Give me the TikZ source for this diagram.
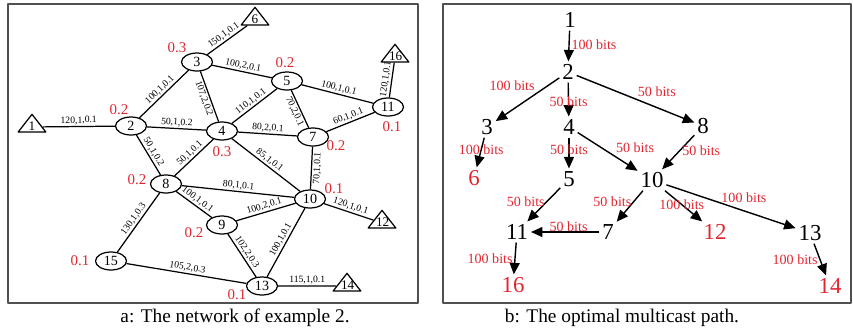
\documentclass[tikz,border=0pt]{standalone}
\usepackage{fontspec}
\setmainfont{Liberation Serif}
\usetikzlibrary{shapes.geometric,arrows.meta}
\definecolor{wred}{RGB}{226,38,48}
\definecolor{framegray}{RGB}{80,80,80}
\tikzset{
  vertex/.style={ellipse,draw,line width=.7pt,fill=white,minimum width=6.2mm,
    minimum height=3.6mm,inner sep=0pt,font=\fontsize{8}{8}\selectfont},
  term/.style={isosceles triangle,isosceles triangle apex angle=76,shape border rotate=90,
    draw,line width=.7pt,fill=white,inner sep=0pt,text width=2.4mm,align=center,
    text height=1.7mm,text depth=.3mm,font=\fontsize{7.5}{7.5}\selectfont},
  elab/.style={sloped,inner sep=.8pt,font=\fontsize{5.5}{5.5}\selectfont},
  wt/.style={text=wred,inner sep=0pt,font=\fontsize{8.5}{8.5}\selectfont},
  tnode/.style={inner sep=1.5pt,font=\fontsize{13}{13}\selectfont},
  bits/.style={text=wred,inner sep=1pt,font=\fontsize{8}{8}\selectfont},
  arr/.style={-{Triangle[length=2.3mm,width=2mm]},line width=.8pt},
  panel/.style={draw=framegray,line width=1.1pt},
}
\begin{document}
\begin{tikzpicture}[x=0.02cm,y=-0.02cm,line join=round]
\useasboundingbox (0,0) rectangle (853,329);
% a: the network
\draw[panel] (8,4) rectangle (418,303);
\foreach \n/\x/\y in {2/131/126,3/197/62,4/222/131,5/287/81,7/313/137,8/166/184,
  9/222/225,10/310/199,11/388/107,13/262/286,15/111/261}
  \node[vertex] (a\n) at (\x,\y) {\n};
\foreach \n/\x/\y in {1/32/127,6/255/20,12/382/223,14/347/286,16/395/57}
  \node[term] (a\n) at (\x,\y) {\n};
\foreach \s/\t/\l/\p in {1/2/{120,1,0.1}/above,2/3/{100,1,0.1}/above,3/6/{150,1,0.1}/above,
  3/5/{100,2,0.1}/above,3/4/{107,2,0.2}/below,2/4/{50,1,0.2}/above,2/8/{50,1,0.2}/above,
  4/5/{110,1,0.1}/above,4/7/{80,2,0.1}/above,4/8/{50,1,0.1}/above,4/10/{85,1,0.1}/above,
  5/11/{100,1,0.1}/above,5/7/{70,2,0.1}/below,7/11/{60,1,0.1}/above,7/10/{70,1,0.1}/below,
  11/16/{120,1,0.1}/above,8/10/{80,1,0.1}/above,8/9/{100,1,0.1}/above,
  8/15/{130,1,0.3}/above,9/10/{100,2,0.1}/above,9/13/{102,2,0.3}/above,
  10/13/{100,1,0.1}/above,10/12/{120,1,0.1}/above,13/14/{115,1,0.1}/above,
  15/13/{105,2,0.3}/above}
  \draw[line width=.7pt] (a\s) -- node[elab,\p]{\l} (a\t);
% node weights
\foreach \n/\x/\y/\w in {2/119/110/0.2,3/177/48/0.3,5/285/63/0.2,11/392/127/0.1,
  7/336/146/0.2,4/222/152/0.3,8/137/180/0.2,9/194/233/0.2,10/334/189/0.1,
  13/237/295/0.1,15/80/261/0.1}
  \node[wt] (w\n) at (\x,\y) {\w};
\node[font=\fontsize{11}{11}\selectfont] (capa) at (235,318) {a: The network of example 2.};

% b: the multicast tree
\draw[panel] (443,4) rectangle (851,303);
\foreach \n/\x/\y in {1/570/20,2/568/72,3/487/127,4/569/127,8/703/126,5/569/179,
  10/652/180,11/517/232,7/608/232,13/810/233}
  \node[tnode] (b\n) at (\x,\y) {\n};
\foreach \n/\x/\y in {6/474/178,12/715/232,16/513/285,14/830/286}
  \node[tnode,text=wred] (b\n) at (\x,\y) {\n};
\draw[arr] (b1) -- node[bits,pos=.45,right]{100 bits} (b2);
\draw[arr] (b2) -- node[bits,pos=.35,above left=0pt]{100 bits} (b3);
\draw[arr] (b2) -- node[bits,pos=.55]{50 bits} (b4);
\draw[arr] (b2) -- node[bits,pos=.5,above right=0pt]{50 bits} (b8);
\draw[arr] (b3) -- node[bits,pos=.4]{100 bits} (b6);
\draw[arr] (b4) -- node[bits,pos=.4]{50 bits} (b5);
\draw[arr] (b4) -- node[bits,pos=.6,above right=0pt]{50 bits} (b10);
\draw[arr] (b8) -- node[bits,pos=.45,right]{50 bits} (b10);
\draw[arr] (b10) -- node[bits,pos=.35,left]{50 bits} (b7);
\draw[arr] (b10) -- node[bits,pos=.45]{100 bits} (b12);
\draw[arr] (b10) -- node[bits,pos=.6,above=3pt]{100 bits} (b13);
\draw[arr] (b5) -- node[bits,pos=.4,left]{50 bits} (b11);
\draw[arr] (b7) -- node[bits,pos=.45,above=-1pt]{50 bits} (b11);
\draw[arr] (b11) -- node[bits,pos=.5,left]{100 bits} (b16);
\draw[arr] (b13) -- node[bits,pos=.5,left]{100 bits} (b14);
\node[font=\fontsize{11}{11}\selectfont] (capb) at (622,318) {b: The optimal multicast path.};
\end{tikzpicture}
\end{document}
